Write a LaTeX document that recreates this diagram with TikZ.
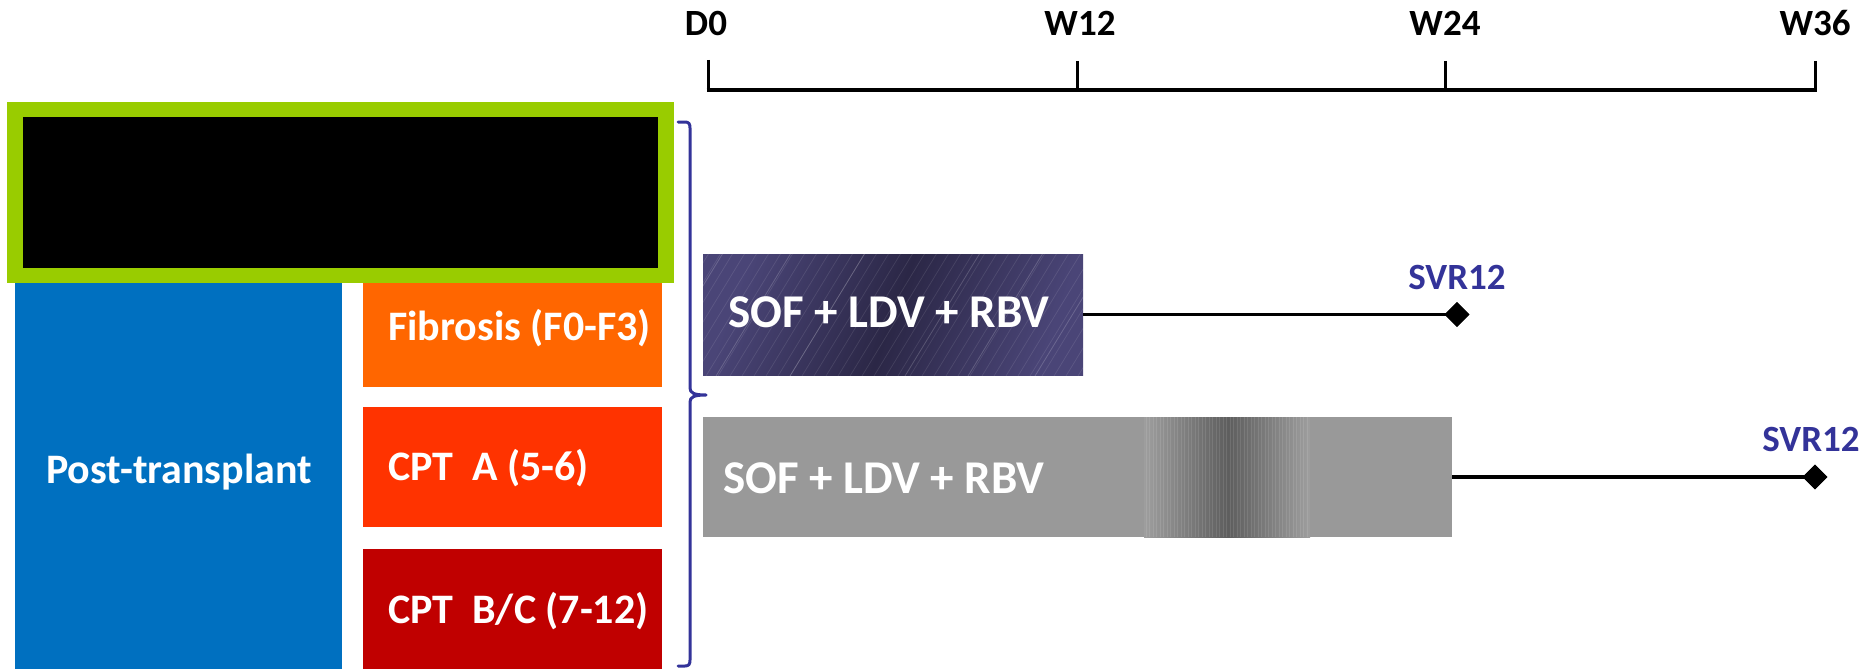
\documentclass[tikz,border=0pt]{standalone}
\usepackage{fontspec}
\setmainfont{Carlito}
\usetikzlibrary{shapes.geometric}
\definecolor{greenC}{HTML}{99CC00}
\definecolor{blueC}{HTML}{0070C0}
\definecolor{orangeC}{HTML}{FF6600}
\definecolor{redC}{HTML}{FF3300}
\definecolor{darkredC}{HTML}{C00000}
\definecolor{navyC}{HTML}{333399}
\definecolor{purpA}{HTML}{4A4577}
\definecolor{purpB}{HTML}{2B2746}
\definecolor{grayC}{HTML}{999999}
\definecolor{grayD}{HTML}{5E5E5E}
\begin{document}
\begin{tikzpicture}[x=1pt,y=-1pt,
  blk/.style={inner sep=0pt, outer sep=0pt, anchor=north west, draw=none},
  wtxt/.style={text=white, inner sep=0pt, anchor=base west, font=\bfseries\fontsize{42}{50}\selectfont},
  regtxt/.style={text=white, inner sep=0pt, anchor=base west, font=\bfseries\fontsize{47}{56}\selectfont},
  svrtxt/.style={text=navyC, inner sep=0pt, anchor=base, font=\bfseries\fontsize{37}{44}\selectfont},
  timetxt/.style={text=black, inner sep=0pt, anchor=base, font=\bfseries\fontsize{37}{44}\selectfont},
  conn/.style={draw=black, line width=3.2pt},
  tick/.style={draw=black, line width=3pt},
  endmark/.style={diamond, fill=black, inner sep=0pt, minimum width=25pt, minimum height=25pt},
  bracestyle/.style={draw=navyC, line width=3pt, line cap=round, line join=round}
]
\useasboundingbox (0,0) rectangle (1871,669);

% left column
\node[blk, fill=blueC, minimum width=327pt, minimum height=399pt] (post) at (15,270) {};
\node[blk, fill=orangeC, minimum width=299pt, minimum height=117pt] (fib) at (363,270) {};
\node[blk, fill=redC, minimum width=299pt, minimum height=120pt] (cpta) at (363,407) {};
\node[blk, fill=darkredC, minimum width=299pt, minimum height=120pt] (cptbc) at (363,549) {};
\node[blk, fill=greenC, minimum width=667pt, minimum height=181pt] (green) at (7,102) {};
\node[blk, fill=black, minimum width=635pt, minimum height=151pt] (hidden) at (23,117) {};

\node[wtxt, anchor=base] (tpost) at (179,483) {Post-transplant};
\node[wtxt] (tfib) at (388,340) {Fibrosis (F0-F3)};
\node[wtxt] (tcpta) at (388,480) {CPT\ \ A (5-6)};
\node[wtxt] (tcptbc) at (388,623) {CPT\ \ B/C (7-12)};

% brace
\draw[bracestyle] (678,122) -- (685,122) .. controls (689,122) and (690,124) .. (690,128)
  -- (690,388) .. controls (690,393) and (694,395) .. (706,395)
  .. controls (694,395) and (690,397) .. (690,402)
  -- (690,660) .. controls (690,664) and (689,666) .. (685,666) -- (678,666);

% timeline
\coordinate (t0b) at (708,90);
\coordinate (t1b) at (1077,90);
\coordinate (t2b) at (1445,90);
\coordinate (t3b) at (1815,90);
\coordinate (t0t) at (708,60);
\coordinate (t1t) at (1077,61);
\coordinate (t2t) at (1445,61);
\coordinate (t3t) at (1815,61);
\draw[black, line width=4.5pt] ([xshift=-1.5pt]t0b) -- ([xshift=1.5pt]t3b);
\draw[tick] (t0t) -- (t0b);
\draw[tick] (t1t) -- (t1b);
\draw[tick] (t2t) -- (t2b);
\draw[tick] (t3t) -- (t3b);
\node[timetxt] (ld0) at (706,36) {D0};
\node[timetxt] (lw12) at (1080,36) {W12};
\node[timetxt] (lw24) at (1445,36) {W24};
\node[timetxt] (lw36) at (1815,36) {W36};

% 12-week arm
\node[blk, minimum width=380pt, minimum height=121pt,
  left color=purpA, right color=purpA, middle color=purpB, shading angle=70] (arm1) at (703,254) {};
\begin{scope}
  \clip (arm1.north west) rectangle (arm1.south east);
  \foreach \x in {610,622,...,1090} {
    \draw[white, opacity=0.10, line width=0.7pt] (\x,376) -- ++(75,-123);
  }
  \foreach \x in {648,716,790,905,968,1035} {
    \draw[white, opacity=0.18, line width=0.8pt] (\x,376) -- ++(75,-123);
  }
\end{scope}
\node[regtxt] (tarm1) at (728,327) {SOF + LDV + RBV};

% 24-week arm
\node[blk, fill=grayC, minimum width=749pt, minimum height=120pt] (arm2) at (703,417) {};
\shade[left color=grayC!95!white, right color=grayD] (1144,417) rectangle (1228,537);
\shade[left color=grayD, right color=grayC!95!white] (1228,417) rectangle (1310,537);
\foreach \x in {1146,1149.5,...,1308} {
  \draw[white, opacity=0.10, line width=0.6pt] (\x,417) -- (\x,537);
}
\node[regtxt] (tarm2) at (723,493) {SOF + LDV + RBV};

% follow-up lines and SVR12
\node[endmark] (d1) at (1457,314.5) {};
\node[endmark] (d2) at (1815,477) {};
\draw[conn] (arm1.east) -- (d1.center);
\draw[conn] (arm2.east) -- (d2.center);
\node[endmark] at (d1) {};
\node[endmark] at (d2) {};
\node[svrtxt] (svr1) at (1457,289) {SVR12};
\node[svrtxt] (svr2) at (1811,451) {SVR12};
\end{tikzpicture}
\end{document}
